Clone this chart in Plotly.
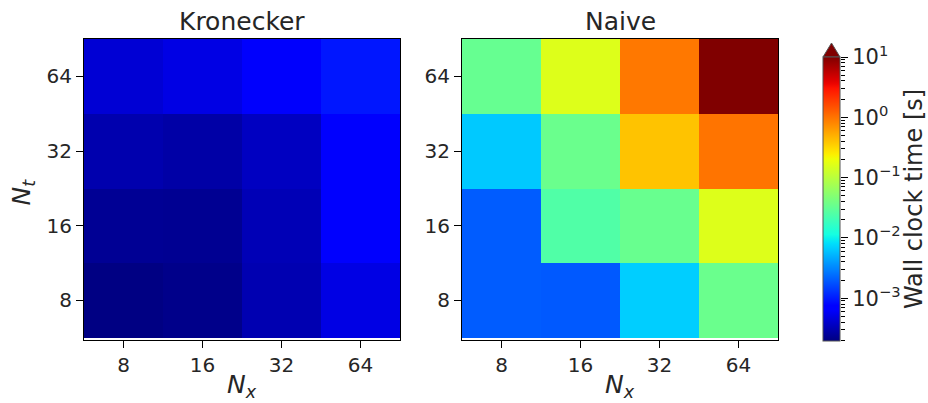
import numpy as np
import plotly.graph_objects as go

# ---------------- data ----------------
nx_labels = ["8", "16", "32", "64"]
nt_labels = ["8", "16", "32", "64"]

# rows: N_t = 8, 16, 32, 64 ; columns: N_x = 8, 16, 32, 64  (seconds)
kron_row8 = [2.0e-4, 2.15e-4, 3.1e-4, 5.0e-4]
kron_row16 = [2.35e-4, 2.3e-4, 3.25e-4, 6.6e-4]
kron_row32 = [3.0e-4, 2.8e-4, 3.6e-4, 6.8e-4]
kron_row64 = [4.3e-4, 5.0e-4, 6.3e-4, 9.5e-4]

naive_row8 = [2.0e-3, 1.95e-3, 6.8e-3, 3.5e-2]
naive_row16 = [2.0e-3, 2.5e-2, 3.4e-2, 0.16]
naive_row32 = [6.4e-3, 3.5e-2, 0.40, 1.0]
naive_row64 = [3.3e-2, 0.16, 0.95, 15.0]

titles = ["Kronecker", "Naive"]
cbar_title = "Wall clock time [s]"
cbar_ticks = [1e-3, 1e-2, 1e-1, 1e0, 1e1]
cbar_ticktext = ["10<sup>\u22123</sup>", "10<sup>\u22122</sup>", "10<sup>\u22121</sup>",
                 "10<sup>0</sup>", "10<sup>1</sup>"]
vmin_log = -3.71
vmax_log = 1.0

# ---------------- helpers ----------------
W, H = 928, 403
def fx(p):
    return p / W
def fy(p):
    return 1 - p / H

# matplotlib 'jet'
def jet_scale(n=65):
    t = np.linspace(0, 1, n)
    r = np.interp(t, [0, 0.35, 0.66, 0.89, 1], [0, 0, 1, 1, 0.5])
    g = np.interp(t, [0, 0.125, 0.375, 0.64, 0.91, 1], [0, 0, 1, 1, 0, 0])
    b = np.interp(t, [0, 0.11, 0.34, 0.65, 1], [0.5, 1, 1, 0, 0])
    return [[float(tt), f"rgb({int(round(rr*255))},{int(round(gg*255))},{int(round(bb*255))})"]
            for tt, rr, gg, bb in zip(t, r, g, b)]

cs = jet_scale()
font_fam = "DejaVu Sans, Verdana, sans-serif"
txt_col = "#262626"

kron = np.log10(np.array([kron_row8, kron_row16, kron_row32, kron_row64]))
naive = np.log10(np.array([naive_row8, naive_row16, naive_row32, naive_row64]))

# geometry (pixels)
ax_top, ax_bot = 39, 340
k_l, k_r = 84, 400
n_l, n_r = 462, 778
cb_l, cb_r = 823, 840
cb_top, cb_bot = 57, 341

fig = go.Figure()
fig.add_trace(go.Heatmap(z=kron, x=nx_labels, y=nt_labels, colorscale=cs,
                         zmin=vmin_log, zmax=vmax_log, xaxis="x", yaxis="y",
                         showscale=False, hoverinfo="skip"))
fig.add_trace(go.Heatmap(z=naive, x=nx_labels, y=nt_labels, colorscale=cs,
                         zmin=vmin_log, zmax=vmax_log, xaxis="x2", yaxis="y2",
                         showscale=True, hoverinfo="skip",
                         colorbar=dict(thickness=cb_r - cb_l, thicknessmode="pixels",
                                       len=cb_bot - cb_top, lenmode="pixels",
                                       x=fx(cb_l), xanchor="left", xpad=0,
                                       y=fy(cb_bot), yanchor="bottom", ypad=0,
                                       outlinewidth=1, outlinecolor="#555",
                                       ticks="", showticklabels=False)))
# invisible trace for the colourbar tick axis
fig.add_trace(go.Scatter(x=[], y=[], xaxis="x3", yaxis="y3", showlegend=False))

axis_common = dict(type="category", showline=True, mirror=True, linecolor="black",
                   linewidth=1, ticks="outside", ticklen=7, tickwidth=1, tickcolor="black",
                   showgrid=False, zeroline=False, automargin=False,
                   tickfont=dict(size=20, family=font_fam, color=txt_col))

minor_vals = [m * 10.0 ** e for e in range(-4, 1) for m in range(2, 10)
              if vmin_log <= np.log10(m * 10.0 ** e) <= vmax_log]

fig.update_layout(
    width=W, height=H, margin=dict(l=0, r=0, t=0, b=0, pad=0),
    paper_bgcolor="white", plot_bgcolor="white", showlegend=False,
    xaxis=dict(domain=[fx(k_l), fx(k_r)], anchor="y", range=[-0.5, 3.5], **axis_common),
    yaxis=dict(domain=[fy(ax_bot), fy(ax_top)], anchor="x", range=[-0.53, 3.5], **axis_common),
    xaxis2=dict(domain=[fx(n_l), fx(n_r)], anchor="y2", range=[-0.5, 3.5], **axis_common),
    yaxis2=dict(domain=[fy(ax_bot), fy(ax_top)], anchor="x2", range=[-0.53, 3.5], **axis_common),
    xaxis3=dict(domain=[fx(cb_l), fx(cb_r)], anchor="y3", visible=False, range=[0, 1],
                automargin=False),
    yaxis3=dict(domain=[fy(cb_bot), fy(cb_top)], anchor="x3", side="right", type="log",
                range=[vmin_log, vmax_log], showgrid=False, zeroline=False, showline=False,
                automargin=False,
                ticks="outside", ticklen=7, tickwidth=1, tickcolor="black",
                tickmode="array", tickvals=cbar_ticks, ticktext=cbar_ticktext,
                tickfont=dict(size=21, family=font_fam, color=txt_col),
                minor=dict(tickmode="array", tickvals=minor_vals, ticks="outside",
                           ticklen=4, tickwidth=1, tickcolor="black", showgrid=False),
                title=dict(text=cbar_title, font=dict(size=24, family=font_fam, color=txt_col),
                           standoff=9)),
)

ann_font = dict(size=25, family=font_fam, color=txt_col)
fig.add_annotation(text=titles[0], x=fx((k_l + k_r) / 2), y=fy(22), xref="paper", yref="paper",
                   showarrow=False, xanchor="center", yanchor="middle", font=ann_font)
fig.add_annotation(text=titles[1], x=fx((n_l + n_r) / 2), y=fy(22), xref="paper", yref="paper",
                   showarrow=False, xanchor="center", yanchor="middle", font=ann_font)
nx_txt = "<i>N</i><sub><i>x</i></sub>"
nt_txt = "<i>N</i><sub><i>t</i></sub>"
fig.add_annotation(text=nx_txt, x=fx((k_l + k_r) / 2), y=fy(386), xref="paper", yref="paper",
                   showarrow=False, xanchor="center", yanchor="middle", font=ann_font)
fig.add_annotation(text=nx_txt, x=fx((n_l + n_r) / 2), y=fy(386), xref="paper", yref="paper",
                   showarrow=False, xanchor="center", yanchor="middle", font=ann_font)
fig.add_annotation(text=nt_txt, x=fx(22), y=fy((ax_top + ax_bot) / 2 + 3), xref="paper", yref="paper",
                   showarrow=False, xanchor="center", yanchor="middle", textangle=-90, font=ann_font)

# extend-max triangle on top of the colour bar
ah = 14
fig.add_shape(type="path", xref="paper", yref="paper",
              path=f"M {fx(cb_l)},{fy(cb_top)} L {fx((cb_l + cb_r) / 2)},{fy(cb_top - ah)} "
                   f"L {fx(cb_r)},{fy(cb_top)} Z",
              fillcolor="rgb(128,0,0)", line=dict(color="#555", width=1))

fig.write_html("out.html")
